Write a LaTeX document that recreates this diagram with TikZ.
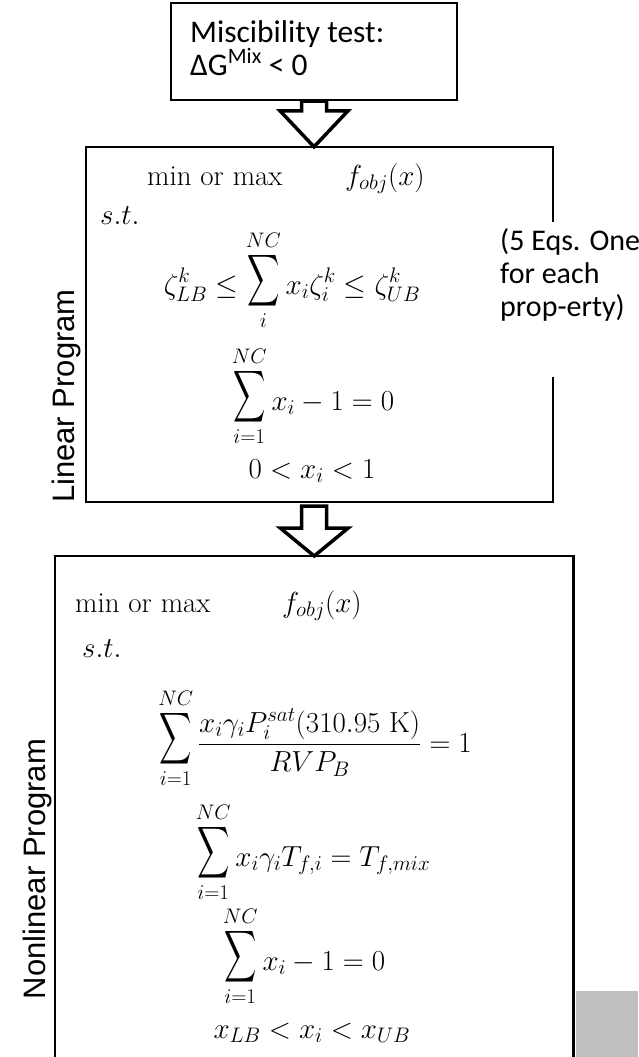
\documentclass[tikz,border=0pt]{standalone}
\usepackage{fix-cm}
\usepackage{exscale}
\usepackage{graphicx}
\usepackage{fontspec}
\newfontfamily\carlito{Carlito}
\newfontfamily\arialf{Liberation Sans}
\usetikzlibrary{calc}
\DeclareMathSizes{29}{29}{21}{16}
\definecolor{graybox}{RGB}{191,191,191}
\newcommand{\Bsum}{\mathop{\raisebox{0.2em}{$\vcenter{\hbox{\scalebox{0.9}[1.45]{$\displaystyle\sum$}}}$}}\limits}
\tikzset{
  boxline/.style={draw=black, line width=2.2pt},
  blockarrow/.style={draw=black, fill=white, line width=3.5pt, line join=miter},
  calibri/.style={font=\carlito\fontsize{30}{33}\selectfont, inner sep=0},
  sidelabel/.style={font=\arialf\fontsize{31}{36}\selectfont, rotate=90, inner sep=0},
  eq/.style={font=\fontsize{29}{34}\selectfont, inner sep=0},
}
\begin{document}
\begin{tikzpicture}[x=1pt,y=-1pt]
\useasboundingbox (0,0) rectangle (638,1057);
\clip (0,0) rectangle (638,1057);
\fill[white] (0,0) rectangle (638,1057);
% gray corner
\node[fill=graybox, minimum width=62, minimum height=67, inner sep=0, anchor=north west] (gray) at (576,991) {};
% top box
\node[boxline, minimum width=286, minimum height=97, inner sep=0] (mis) at (314,51.5) {};
\node[calibri, font=\carlito\fontsize{31.5}{33}\selectfont, anchor=north west, align=left] (mistext) at (190,20) {Miscibility test:\\ΔG\textsuperscript{Mix} < 0};
% middle box
\node[minimum width=467, minimum height=355, inner sep=0] (lp) at (319.5,324.5) {};
\draw[boxline] ([yshift=-75pt]lp.north east) -- (lp.north east) -- (lp.north west) -- (lp.south west) -- (lp.south east) -- ([yshift=125pt]lp.south east);
% bottom box
\node[minimum width=518, minimum height=520, inner sep=0, anchor=north west] (nlp) at (55,556) {};
\draw[boxline] (nlp.south west) -- (nlp.north west) -- (nlp.north east) -- (nlp.south east);
% arrow 1
\coordinate (a1t) at (mis.south |- lp.north);
\draw[blockarrow] ($(mis.south)+(-12.5,0)$) -- ($(mis.south)+(12.5,0)$) -- ($(a1t)+(12.5,-36)$) -- ($(a1t)+(34,-36)$) -- (a1t) -- ($(a1t)+(-34,-36)$) -- ($(a1t)+(-12.5,-36)$) -- cycle;
% arrow 2
\coordinate (a2s) at (nlp.north |- lp.south);
\draw[blockarrow] ($(a2s)+(-12.5,4)$) -- ($(a2s)+(12.5,4)$) -- ($(nlp.north)+(12.5,-28)$) -- ($(nlp.north)+(34,-28)$) -- (nlp.north) -- ($(nlp.north)+(-34,-28)$) -- ($(nlp.north)+(-12.5,-28)$) -- cycle;
% side labels
\node[sidelabel] (lplab) at (66,396) {Linear Program};
\node[sidelabel] (nllab) at (37,869) {Nonlinear Program};
\node[calibri, anchor=north west, align=left] (note) at (500,228) {(5 Eqs. One\\for each\\prop-erty)};
% linear program
\node[eq, anchor=base west] (lpmin) at (147,185) {min or max};
\node[eq, anchor=base west] (lpf) at (345,185) {$f_{obj}(x)$};
\node[eq, anchor=base west] (lpst) at (100,224) {$s.t.$};
\node[eq, anchor=base] (lpc1) at (292,294) {$\displaystyle \zeta_{LB}^{k} \le \Bsum_{i}^{NC} x_i \zeta_i^k \le \zeta_{UB}^{k}$};
\node[eq, anchor=base] (lpc2) at (313,410) {$\displaystyle \Bsum_{i=1}^{NC} x_i - 1 = 0$};
\node[eq, anchor=base] (lpc3) at (312,478) {$0 < x_i < 1$};
% nonlinear program
\node[eq, anchor=base west] (nlmin) at (75,612) {min or max};
\node[eq, anchor=base west] (nlf) at (282,612) {$f_{obj}(x)$};
\node[eq, anchor=base west] (nlst) at (82,657) {$s.t.$};
\node[eq, anchor=base] (nlc1) at (315,752) {$\displaystyle \Bsum_{i=1}^{NC} \frac{x_i\gamma_i P_i^{sat}(310.95\ \mathrm{K})}{RVP_B} = 1$};
\node[eq, anchor=base] (nlc2) at (313,866) {$\displaystyle \Bsum_{i=1}^{NC} x_i\gamma_i T_{f,i} = T_{f,mix}$};
\node[eq, anchor=base] (nlc3) at (304,970) {$\displaystyle \Bsum_{i=1}^{NC} x_i - 1 = 0$};
\node[eq, anchor=base] (nlc4) at (312,1038) {$x_{LB} < x_i < x_{UB}$};
\end{tikzpicture}
\end{document}
